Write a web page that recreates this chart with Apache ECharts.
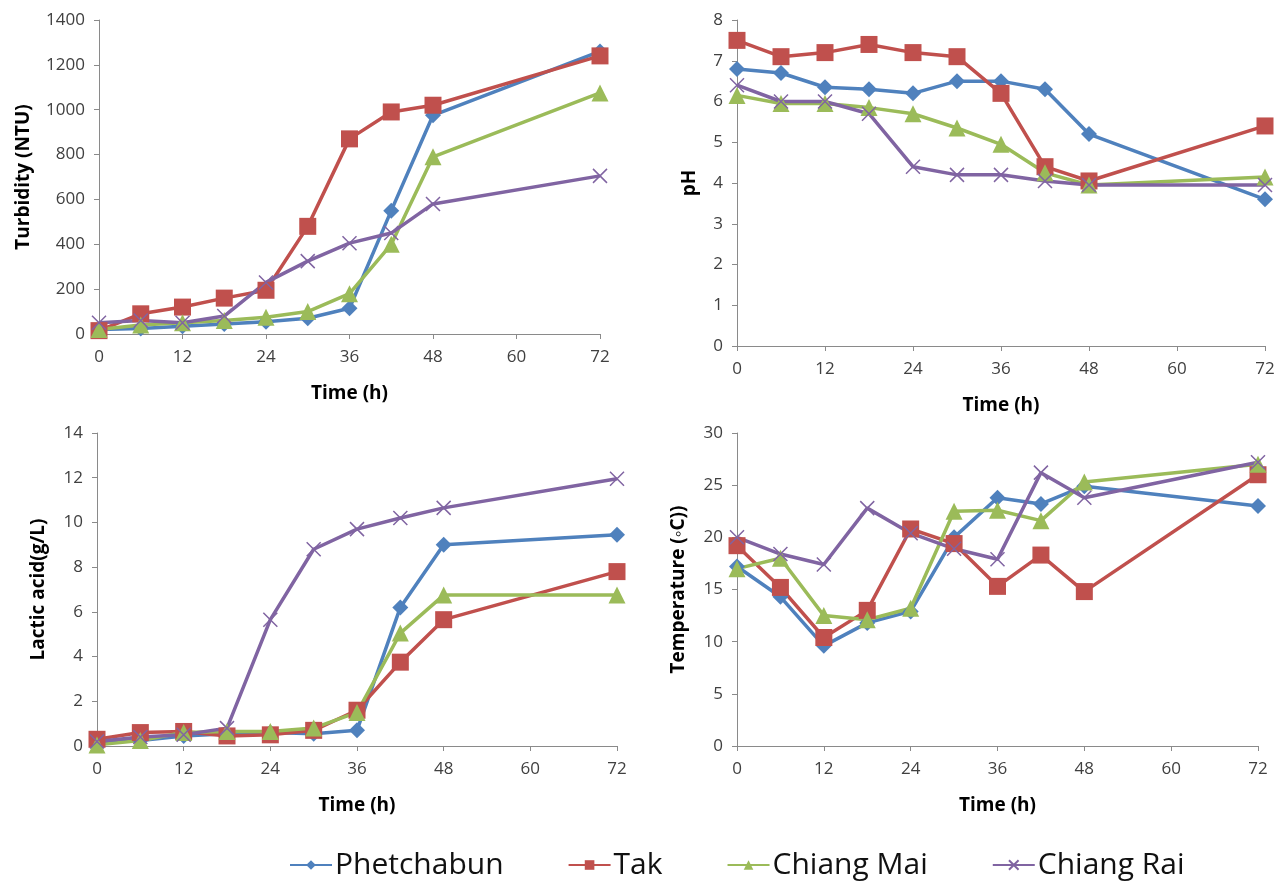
<!DOCTYPE html>
<html>
<head>
<meta charset="utf-8">
<script src="https://cdn.jsdelivr.net/npm/echarts@6/dist/echarts.min.js"></script>
<style>
html,body{margin:0;padding:0;background:#fff;}
#container{width:1287px;height:884px;}
</style>
</head>
<body>
<div id="container"></div>
<script>
var hours = [0, 6, 12, 18, 24, 30, 36, 42, 48, 72];
var names = ['Phetchabun', 'Tak', 'Chiang Mai', 'Chiang Rai'];

// turbidity (NTU)
var turbPhet = [20, 25, 35, 45, 55, 70, 115, 550, 975, 1260];
var turbTak = [15, 90, 120, 160, 195, 480, 870, 990, 1020, 1240];
var turbCM = [20, 40, 50, 60, 75, 100, 180, 400, 790, 1075];
var turbCR = [50, 60, 50, 80, 230, 325, 405, 450, 580, 705];

// pH
var phPhet = [6.8, 6.7, 6.35, 6.3, 6.2, 6.5, 6.5, 6.3, 5.2, 3.6];
var phTak = [7.5, 7.1, 7.2, 7.4, 7.2, 7.1, 6.2, 4.4, 4.05, 5.4];
var phCM = [6.15, 5.95, 5.95, 5.85, 5.7, 5.35, 4.95, 4.25, 3.95, 4.15];
var phCR = [6.4, 6.0, 6.0, 5.7, 4.4, 4.2, 4.2, 4.05, 3.95, 3.95];

// lactic acid (g/L)
var laPhet = [0.2, 0.25, 0.45, 0.55, 0.6, 0.55, 0.7, 6.2, 9.0, 9.45];
var laTak = [0.3, 0.6, 0.65, 0.45, 0.5, 0.7, 1.6, 3.75, 5.65, 7.8];
var laCM = [0.05, 0.25, 0.6, 0.65, 0.65, 0.8, 1.5, 5.05, 6.75, 6.75];
var laCR = [0.2, 0.4, 0.5, 0.8, 5.65, 8.8, 9.7, 10.2, 10.65, 11.95];

// temperature (C)
var tPhet = [17.2, 14.3, 9.6, 11.8, 12.9, 20.0, 23.8, 23.2, 24.9, 23.0];
var tTak = [19.2, 15.2, 10.4, 13.0, 20.8, 19.4, 15.3, 18.3, 14.8, 26.0];
var tCM = [17.0, 18.0, 12.5, 12.1, 13.2, 22.5, 22.6, 21.6, 25.3, 27.0];
var tCR = [20.0, 18.4, 17.4, 22.8, 20.4, 18.9, 17.9, 26.2, 23.8, 27.2];

var colors = ['#4F81BD', '#C0504D', '#9BBB59', '#8064A2'];
var symbols = ['diamond', 'rect', 'triangle', 'path://M0,0L10,10M10,0L0,10'];
var sizes = [16, 17, 17, 14];

var panels = [
  {data: [turbPhet, turbTak, turbCM, turbCR], name: 'Turbidity (NTU)', max: 1400, interval: 200, gap: 66},
  {data: [phPhet, phTak, phCM, phCR], name: 'pH', max: 8, interval: 1, gap: 38},
  {data: [laPhet, laTak, laCM, laCR], name: 'Lactic acid(g/L)', max: 14, interval: 2, gap: 49},
  {data: [tPhet, tTak, tCM, tCR], name: 'Temperature (\u25E6C))', max: 30, interval: 5, gap: 49}
];

var grids = [
  {left: 99, top: 20, width: 501, height: 314},
  {left: 737, top: 20, width: 528, height: 326},
  {left: 97, top: 433, width: 520, height: 313},
  {left: 737, top: 433, width: 521, height: 313}
];

var axisLine = {lineStyle: {color: '#8a8a8a', width: 1}};
var axisTick = {show: true, inside: false, length: 5, lineStyle: {color: '#8a8a8a'}};
var labelFont = {fontFamily: 'Open Sans', fontSize: 17, color: '#404040'};
var nameFont = {fontFamily: 'Open Sans', fontSize: 19, fontWeight: 'bold', color: '#000'};

var xAxes = [], yAxes = [], series = [];
panels.forEach(function (p, i) {
  xAxes.push({
    gridIndex: i, type: 'value', min: 0, max: 72, interval: 12,
    name: 'Time (h)', nameLocation: 'middle', nameGap: 50, nameTextStyle: nameFont,
    axisLine: axisLine, axisTick: axisTick, splitLine: {show: false},
    axisLabel: Object.assign({margin: 15, formatter: function (v) { return String(v); }}, labelFont)
  });
  yAxes.push({
    gridIndex: i, type: 'value', min: 0, max: p.max, interval: p.interval,
    name: p.name, nameLocation: 'middle', nameGap: p.gap, nameRotate: 90, nameTextStyle: nameFont,
    axisLine: Object.assign({show: true}, axisLine), axisTick: axisTick, splitLine: {show: false},
    axisLabel: Object.assign({margin: 14, formatter: function (v) { return String(v); }}, labelFont)
  });
  p.data.forEach(function (vals, k) {
    series.push({
      name: names[k], type: 'line', xAxisIndex: i, yAxisIndex: i,
      data: hours.map(function (h, j) { return [h, vals[j]]; }),
      symbol: symbols[k], symbolSize: sizes[k], showAllSymbol: true,
      lineStyle: {color: colors[k], width: 3.5},
      itemStyle: k === 3 ? {color: colors[k], borderColor: colors[k], borderWidth: 1.5} : {color: colors[k]},
      emphasis: {disabled: true},
      animation: false
    });
  });
});

var myChart = echarts.init(document.getElementById('container'));
option = {
  backgroundColor: '#fff',
  grid: grids,
  xAxis: xAxes,
  yAxis: yAxes,
  legend: {
    data: names, left: 284, top: 845, itemWidth: 42, itemHeight: 12, itemGap: 64,
    textStyle: {fontFamily: 'Open Sans', fontSize: 30, color: '#111', padding: [0, 0, 0, -2]}
  },
  series: series
};
myChart.setOption(option, true);
</script>
</body>
</html>
